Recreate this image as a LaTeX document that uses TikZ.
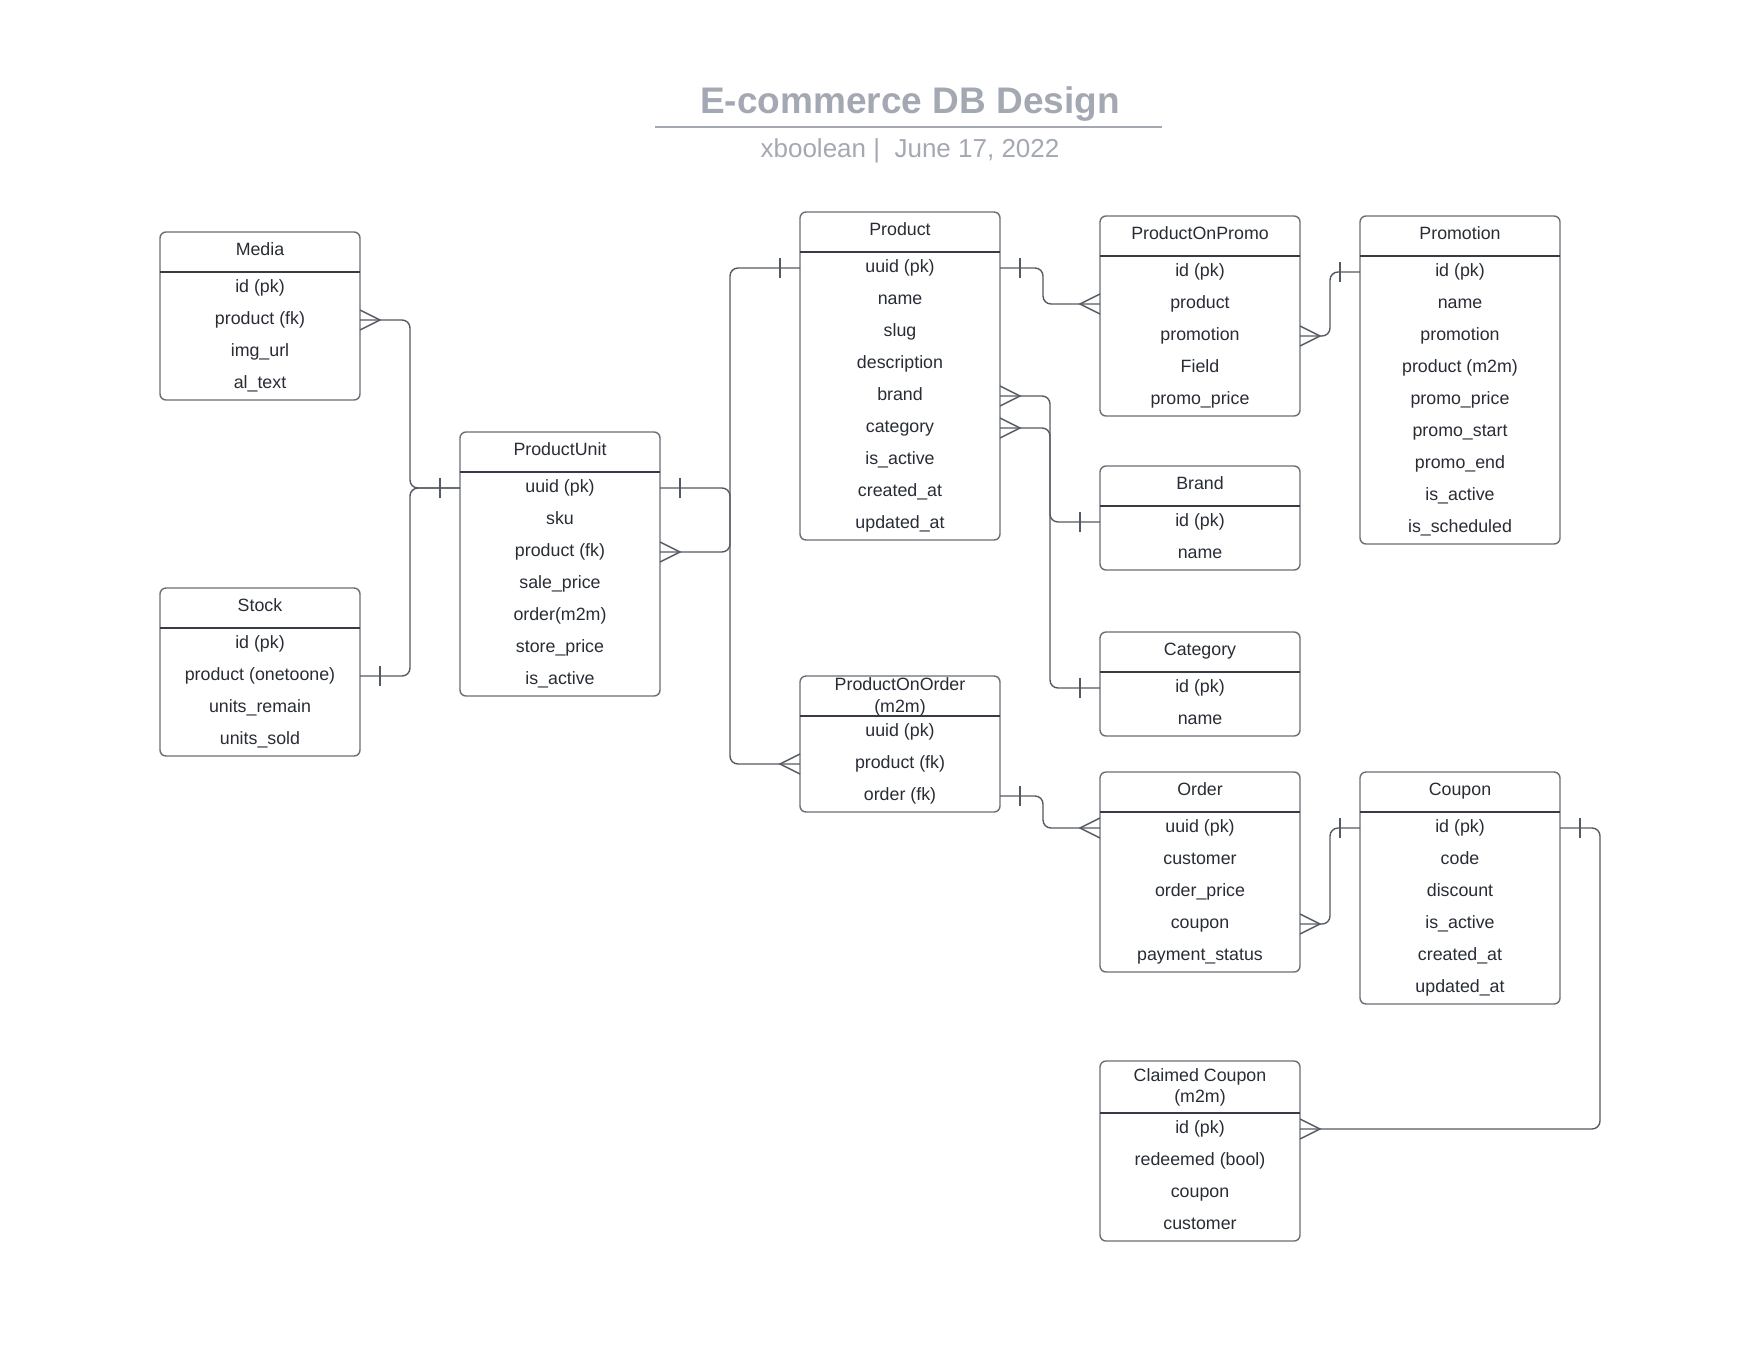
\documentclass[tikz,border=0pt]{standalone}
\usepackage{fontspec}
\setmainfont{Liberation Sans}
\usetikzlibrary{calc}
\definecolor{titlegray}{RGB}{163,168,178}
\definecolor{txt}{RGB}{40,44,52}
\definecolor{bord}{RGB}{105,110,118}
\definecolor{sepcol}{RGB}{55,60,68}
\definecolor{conncol}{RGB}{85,90,98}
\tikzset{
  tablebox/.style={draw=bord, line width=1.4pt, rounded corners=6pt, inner sep=0pt, outer sep=0pt, minimum width=200pt},
  sepline/.style={draw=sepcol, line width=1.3pt},
  titletext/.style={text=txt, font=\fontsize{17.8}{21.5}\selectfont, align=center, inner sep=0pt, text height=13pt, text depth=4pt},
  twoline/.style={text height=, text depth=},
  rowtext/.style={text=txt, font=\fontsize{17.8}{21.5}\selectfont, inner sep=0pt, outer sep=0pt, minimum width=200pt, text height=13pt, text depth=4pt},
  conn/.style={draw=conncol, line width=1.4pt, rounded corners=8pt},
  endmark/.style={draw=conncol, line width=1.4pt},
}
% #1 name, #2 left, #3 top, #4 header height, #5 number of rows, #6 title, #7 rows, #8 title style
\newcommand{\ertable}[8]{%
  \pgfmathsetmacro\tblH{#4+32*#5}%
  \node[tablebox, minimum height=\tblH pt, anchor=north west] (#1) at (#2,#3) {};
  \draw[sepline] ($(#1.north west)+(0,#4)$) -- ($(#1.north east)+(0,#4)$);
  \node[titletext, #8] (#1-t) at ($(#1.north)+(0,#4/2-1)$) {#6};
  \foreach \r [count=\i] in {#7} {
    \node[rowtext] (#1-\i) at ($(#1.north)+(0,#4+16+32*\i-32)$) {\r};
  }
}
\newcommand\tickE[1]{\draw[endmark] ($(#1.east)+(20,-10)$) -- ($(#1.east)+(20,10)$);}
\newcommand\tickW[1]{\draw[endmark] ($(#1.west)+(-20,-10)$) -- ($(#1.west)+(-20,10)$);}
\newcommand\crowE[1]{\draw[endmark] ($(#1.east)+(0,-10)$) -- ($(#1.east)+(20,0)$) -- ($(#1.east)+(0,10)$);}
\newcommand\crowW[1]{\draw[endmark] ($(#1.west)+(0,-10)$) -- ($(#1.west)+(-20,0)$) -- ($(#1.west)+(0,10)$);}
\begin{document}
\begin{tikzpicture}[x=1pt, y=-1pt]
\useasboundingbox (0,0) rectangle (1760,1360);
% heading
\node[font=\bfseries\fontsize{37}{44}\selectfont, text=titlegray, inner sep=0pt, anchor=base] (title) at (910,113) {E-commerce DB Design};
\coordinate (ruleL) at (655,127);
\coordinate (ruleR) at (1162,127);
\draw[titlegray, line width=2pt] (ruleL) -- (ruleR);
\node[font=\fontsize{26}{30}\selectfont, text=titlegray, inner sep=0pt, anchor=base] (subtitle) at (910,157) {xboolean |\ \ June 17, 2022};
% tables
\ertable{media}{160}{232}{40}{4}{Media}{id (pk),product (fk),img\_url,al\_text}{}
\ertable{stock}{160}{588}{40}{4}{Stock}{id (pk),product (onetoone),units\_remain,units\_sold}{}
\ertable{pu}{460}{432}{40}{7}{ProductUnit}{uuid (pk),sku,product (fk),sale\_price,order(m2m),store\_price,is\_active}{}
\ertable{prod}{800}{212}{40}{9}{Product}{uuid (pk),name,slug,description,brand,category,is\_active,created\_at,updated\_at}{}
\ertable{pop}{1100}{216}{40}{5}{ProductOnPromo}{id (pk),product,promotion,Field,promo\_price}{}
\ertable{promo}{1360}{216}{40}{9}{Promotion}{id (pk),name,promotion,product (m2m),promo\_price,promo\_start,promo\_end,is\_active,is\_scheduled}{}
\ertable{brand}{1100}{466}{40}{2}{Brand}{id (pk),name}{}
\ertable{cat}{1100}{632}{40}{2}{Category}{id (pk),name}{}
\ertable{poo}{800}{676}{40}{3}{ProductOnOrder\\(m2m)}{uuid (pk),product (fk),order (fk)}{twoline, yshift=-2pt}
\ertable{order}{1100}{772}{40}{5}{Order}{uuid (pk),customer,order\_price,coupon,payment\_status}{}
\ertable{coupon}{1360}{772}{40}{6}{Coupon}{id (pk),code,discount,is\_active,created\_at,updated\_at}{}
\ertable{cc}{1100}{1061}{52}{4}{Claimed Coupon\\(m2m)}{id (pk),redeemed (bool),coupon,customer}{twoline, yshift=-1.5pt}
% connectors
\draw[conn] (media-2.east) -- ++(50,0) |- (pu-1.west);
\crowE{media-2} \tickW{pu-1}
\draw[conn] (stock-2.east) -- ++(50,0) |- (pu-1.west);
\tickE{stock-2}
\draw[conn] (pu-1.east) -- ++(70,0) |- (poo-2.west);
\tickE{pu-1} \crowW{poo-2}
\draw[conn] (prod-1.west) -- ++(-70,0) |- (pu-3.east);
\tickW{prod-1} \crowE{pu-3}
\draw[conn] (prod-1.east) -- ++(43,0) |- (pop-2.west);
\tickE{prod-1} \crowW{pop-2}
\draw[conn] (prod-5.east) -- ++(50,0) |- (brand-1.west);
\crowE{prod-5} \tickW{brand-1}
\draw[conn] (prod-6.east) -- ++(50,0) |- (cat-1.west);
\crowE{prod-6} \tickW{cat-1}
\draw[conn] (pop-3.east) -- ++(30,0) |- (promo-1.west);
\crowE{pop-3} \tickW{promo-1}
\draw[conn] (poo-3.east) -- ++(43,0) |- (order-1.west);
\tickE{poo-3} \crowW{order-1}
\draw[conn] (order-4.east) -- ++(30,0) |- (coupon-1.west);
\crowE{order-4} \tickW{coupon-1}
\draw[conn] (coupon-1.east) -- ++(40,0) |- (cc-1.east);
\tickE{coupon-1} \crowE{cc-1}
\end{tikzpicture}
\end{document}
